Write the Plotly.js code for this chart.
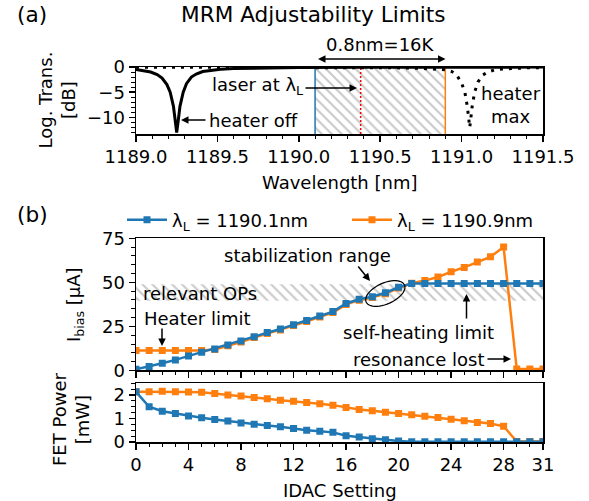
<!DOCTYPE html>
<html><head><meta charset="utf-8">
<script src="https://cdn.plot.ly/plotly-3.0.1.min.js"></script>
<style>body{margin:0;background:#fff}#chart{width:589px;height:501px}</style>
</head><body><div id="chart"></div>
<script>
// ---- panel (a) data ----
const wlOff = [1189.0,1189.05,1189.09,1189.13,1189.16,1189.19,1189.21,1189.23,1189.24,1189.25,1189.26,1189.27,1189.29,1189.31,1189.34,1189.37,1189.41,1189.46,1189.52,1189.6,1189.75,1190.0,1190.4,1190.9,1191.5];
const dbOff = [-0.5,-0.7,-1.0,-1.5,-2.2,-3.5,-5.0,-7.8,-10.5,-13.0,-10.5,-7.8,-5.0,-3.3,-2.0,-1.4,-0.9,-0.65,-0.45,-0.3,-0.18,-0.1,-0.05,-0.03,-0.02];
const wlMax = [1189.0,1189.5,1190.0,1190.4,1190.6,1190.75,1190.85,1190.9,1190.94,1190.97,1191.0,1191.02,1191.035,1191.05,1191.065,1191.08,1191.1,1191.13,1191.16,1191.2,1191.25,1191.32,1191.4,1191.5];
const dbMax = [-0.03,-0.05,-0.08,-0.12,-0.17,-0.25,-0.4,-0.55,-0.9,-1.6,-3.2,-5.0,-7.8,-12.0,-7.8,-5.0,-3.0,-1.6,-1.0,-0.6,-0.4,-0.25,-0.17,-0.12];
const laserBlue = 1190.1, laserOrange = 1190.9, laserPos = 1190.38;
const wlRange = [1189.0, 1191.5];
const dbRange = [-13.3, 0];

// ---- panel (b) data ----
const idac = [0,1,2,3,4,5,6,7,8,9,10,11,12,13,14,15,16,17,18,19,20,21,22,23,24,25,26,27,28,29,30,31];
const ibiasBlue = [0.7,2.2,4.1,6.0,8.2,10.3,12.2,14.5,16.7,19.2,21.5,23.5,26.0,28.3,30.9,33.4,38.0,40.4,41.9,44.1,47.2,49.3,49.3,49.3,49.3,49.3,49.3,49.3,49.3,49.3,49.3,49.3];
const ibiasOrange = [11.3,11.3,11.3,11.3,11.3,11.4,11.9,14.0,16.2,18.7,21.0,23.0,25.5,27.8,30.4,32.9,37.5,39.9,41.4,43.6,46.8,49.5,51.0,53.0,56.0,58.5,61.5,64.5,70.0,0.8,0.8,0.8];
const powerBlue = [2.14,1.50,1.31,1.21,1.11,1.03,0.96,0.89,0.81,0.76,0.70,0.65,0.57,0.50,0.46,0.41,0.27,0.21,0.14,0.10,0.04,0.01,0.01,0.01,0.01,0.01,0.01,0.01,0.01,0.01,0.01,0.01];
const powerOrange = [2.14,2.14,2.16,2.14,2.13,2.12,2.07,2.00,1.96,1.90,1.84,1.78,1.74,1.68,1.63,1.57,1.47,1.38,1.33,1.27,1.21,1.16,1.10,1.04,0.97,0.90,0.83,0.79,0.67,0.02,0.02,0.02];
const opsBand = [39.6, 49.0];
const idacTicks = [0,4,8,12,16,20,24,28,31];
const seriesNames = ['λ<sub>L</sub> = 1190.1nm', 'λ<sub>L</sub> = 1190.9nm'];

const BLUE = '#1f77b4', ORANGE = '#ff7f0e';
const FONT = 'DejaVu Sans, sans-serif';

const hatch = {shape:'\\', fgcolor:'#c8c8c8', bgcolor:'#ffffff', size:7, solidity:0.28};

const traces = [
  // hatched region (a)
  {x:[laserBlue,laserOrange,laserOrange,laserBlue,laserBlue], y:[dbRange[0],dbRange[0],dbRange[1],dbRange[1],dbRange[0]],
   xaxis:'x', yaxis:'y', mode:'lines', fill:'toself', fillcolor:'rgba(0,0,0,0)', fillpattern:hatch,
   line:{width:0}, showlegend:false, hoverinfo:'skip'},
  {x:[laserBlue,laserBlue], y:dbRange, xaxis:'x', yaxis:'y', mode:'lines', line:{color:BLUE,width:1.5}, showlegend:false},
  {x:[laserOrange,laserOrange], y:dbRange, xaxis:'x', yaxis:'y', mode:'lines', line:{color:ORANGE,width:1.5}, showlegend:false},
  {x:[laserPos,laserPos], y:dbRange, xaxis:'x', yaxis:'y', mode:'lines', line:{color:'red',width:1.5,dash:'2px,2px'}, showlegend:false},
  {x:wlMax, y:dbMax, xaxis:'x', yaxis:'y', mode:'lines', line:{color:'black',width:3,dash:'3px,6px'}, showlegend:false},
  {x:wlOff, y:dbOff, xaxis:'x', yaxis:'y', mode:'lines', line:{color:'black',width:3}, showlegend:false},
  // band (b)
  {x:[idac[0],idac[idac.length-1],idac[idac.length-1],idac[0],idac[0]], y:[opsBand[0],opsBand[0],opsBand[1],opsBand[1],opsBand[0]],
   xaxis:'x2', yaxis:'y2', mode:'lines', fill:'toself', fillcolor:'rgba(0,0,0,0)', fillpattern:hatch,
   line:{width:0}, showlegend:false, hoverinfo:'skip'},
  {x:idac, y:ibiasOrange, xaxis:'x2', yaxis:'y2', mode:'lines+markers', name:seriesNames[1], legend:'legend2',
   line:{color:ORANGE,width:2.5}, marker:{symbol:'square',size:7,color:ORANGE}},
  {x:idac, y:ibiasBlue, xaxis:'x2', yaxis:'y2', mode:'lines+markers', name:seriesNames[0], legend:'legend',
   line:{color:BLUE,width:2.5}, marker:{symbol:'square',size:7,color:BLUE}},
  {x:idac, y:powerOrange, xaxis:'x3', yaxis:'y3', mode:'lines+markers', showlegend:false,
   line:{color:ORANGE,width:2.5}, marker:{symbol:'square',size:7,color:ORANGE}},
  {x:idac, y:powerBlue, xaxis:'x3', yaxis:'y3', mode:'lines+markers', showlegend:false,
   line:{color:BLUE,width:2.5}, marker:{symbol:'square',size:7,color:BLUE}}
];

const L=136, R=543, T=67, B=442;
const PX = x => (x-L)/(R-L);
const PY = y => (B-y)/(B-T);

function txt(text, x, y, xanchor, size, extra){
  return Object.assign({xref:'paper', yref:'paper', x:PX(x), y:PY(y), text:text, showarrow:false,
    xanchor:xanchor||'center', yanchor:'middle', font:{family:FONT,size:size||18,color:'black'}}, extra||{});
}
function arr(hx, hy, tx, ty, both){
  return {xref:'paper', yref:'paper', x:PX(hx), y:PY(hy), ax:tx-hx, ay:ty-hy, axref:'pixel', ayref:'pixel',
    text:'', showarrow:true, arrowhead:2, arrowsize:1, arrowwidth:1.5, arrowcolor:'black',
    arrowside: both ? 'end+start' : 'end', standoff:0, startstandoff:0};
}

const annotations = [
  txt('(a)', 15, 14, 'left', 21.6),
  txt('MRM Adjustability Limits', 313, 14, 'center', 21.6),
  txt('0.8nm=16K', 380, 44),
  arr(445.5, 59, 316.5, 59, true),
  txt('laser at λ<sub>L</sub>', 305, 86, 'right'),
  arr(357, 88, 304, 88),
  txt('heater off', 207, 120, 'left'),
  arr(181, 120, 207, 120),
  txt('heater', 511, 94),
  txt('max', 511, 117),
  txt('Wavelength [nm]', 340, 182),
  txt('Log. Trans.<br>[dB]', 56, 100.5, 'center', 18, {textangle:-90}),
  txt('(b)', 15, 214, 'left', 21.6),
  txt('relevant OPs', 141, 293, 'left'),
  txt('Heater limit', 142, 318, 'left'),
  arr(162, 346, 162, 327),
  txt('stabilization range', 307, 255),
  arr(370, 281, 357, 265),
  txt('self-heating limit', 418, 332),
  arr(466.5, 294, 466.5, 320),
  txt('resonance lost', 486, 359, 'right'),
  arr(511, 359, 486, 359),
  txt('I<sub>bias</sub> [μA]', 75, 305, 'center', 18, {textangle:-90}),
  txt('FET Power<br>[mW]', 71, 420, 'center', 18, {textangle:-90}),
  txt('IDAC Setting', 340, 490)
];

// ellipse around stabilization range (annotation shape)
const ell = [];
const cx=385.3, cy=293.5, ea=21, eb=10.5, th=24*Math.PI/180;
for(let i=0;i<=48;i++){
  const p = i/48*2*Math.PI;
  const X = cx + ea*Math.cos(th)*Math.cos(p) - eb*Math.sin(th)*Math.sin(p);
  const Y = cy - (ea*Math.sin(th)*Math.cos(p) + eb*Math.cos(th)*Math.sin(p));
  ell.push((i?'L':'M') + PX(X).toFixed(5) + ',' + PY(Y).toFixed(5));
}
const shapes = [{type:'path', xref:'paper', yref:'paper', path: ell.join(' ')+' Z', line:{color:'black',width:1.2}}];

const axBase = {showline:true, mirror:true, linecolor:'black', linewidth:1.5, showgrid:false, zeroline:false,
  ticks:'outside', ticklen:6, tickwidth:1.5, tickcolor:'black', tickfont:{family:FONT,size:18,color:'black'}};

const legBase = {orientation:'h', xanchor:'left', yanchor:'middle', font:{family:FONT,size:18},
  bgcolor:'rgba(0,0,0,0)', itemwidth:40};

const layout = {
  width:589, height:501,
  margin:{l:L, r:589-R, t:T, b:501-B},
  paper_bgcolor:'white', plot_bgcolor:'white',
  font:{family:FONT, size:18, color:'black'},
  showlegend:true,
  legend: Object.assign({}, legBase, {x:PX(122), y:PY(220)}),
  legend2: Object.assign({}, legBase, {x:PX(347), y:PY(220)}),
  xaxis: Object.assign({}, axBase, {anchor:'y', domain:[0,1], range:wlRange, tick0:1189, dtick:0.5, tickformat:'.1f',
    minor:{dtick:0.1, tick0:1189, ticklen:3.5, tickwidth:1, ticks:'outside', tickcolor:'black'}}),
  yaxis: Object.assign({}, axBase, {anchor:'x', domain:[0.8213,1], range:dbRange, tickvals:[0,-5,-10],
    minor:{dtick:1, tick0:0, ticklen:3.5, tickwidth:1, ticks:'outside', tickcolor:'black'}}),
  xaxis2: Object.assign({}, axBase, {anchor:'y2', domain:[0,1], range:[0,31], tickvals:idacTicks, showticklabels:false,
    minor:{tickmode:'linear', dtick:1, tick0:0, ticklen:3.5, tickwidth:1, ticks:'outside', tickcolor:'black'}}),
  yaxis2: Object.assign({}, axBase, {anchor:'x2', domain:[0.1907,0.5432], range:[0,75], tickvals:[0,25,50,75],
    minor:{dtick:5, tick0:0, ticklen:3.5, tickwidth:1, ticks:'outside', tickcolor:'black'}}),
  xaxis3: Object.assign({}, axBase, {anchor:'y3', domain:[0,1], range:[0,31], tickvals:idacTicks,
    minor:{tickmode:'linear', dtick:1, tick0:0, ticklen:3.5, tickwidth:1, ticks:'outside', tickcolor:'black'}}),
  yaxis3: Object.assign({}, axBase, {anchor:'x3', domain:[0,0.1565], range:[0,2.5], tickvals:[0,1,2],
    minor:{dtick:0.25, tick0:0, ticklen:3.5, tickwidth:1, ticks:'outside', tickcolor:'black'}}),
  annotations: annotations,
  shapes: shapes
};

Plotly.newPlot('chart', traces, layout, {staticPlot:true, displayModeBar:false});
</script>
</body></html>
